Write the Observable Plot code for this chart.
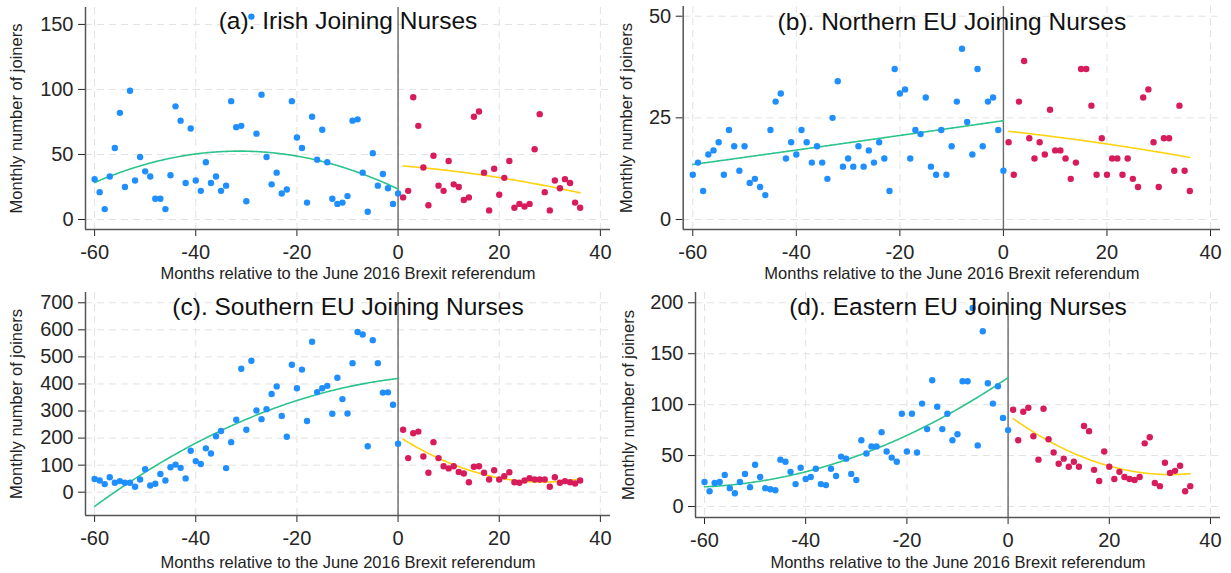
<!DOCTYPE html>
<html><head><meta charset="utf-8">
<script src="https://cdn.jsdelivr.net/npm/d3@7"></script>
<script src="https://cdn.jsdelivr.net/npm/@observablehq/plot@0.6"></script>
<style>
body{margin:0;background:#fff;}
#root{position:relative;width:1231px;height:573px;overflow:hidden;background:#fff;}
.panel{position:absolute;}
</style></head><body><div id="root"></div>
<script>
// ---------- data ----------
const monthsBefore = d3.range(-60, 1);   // -60 .. 0
const monthsAfter = d3.range(1, 37);     // 1 .. 36
const xTicks = [-60, -40, -20, 0, 20, 40];

const irishBefore = [31,21,8,33,55,82,25,99,30,48,37,33,16,16,8,34,87,76,28,70,30,22,44,28,33,22,26,91,71,72,14,156,66,96,48,27,36,20,23,91,63,55,13,79,46,69,44,16,12,13,18,76,77,36,6,51,26,35,24,12,20];
const irishAfter = [17,22,94,72,40,11,49,26,22,45,27,25,15,17,79,83,36,7,39,19,32,45,9,12,10,12,54,81,21,7,30,24,31,28,13,9];

const northBefore = [11,14,7,16,17,19,11,22,18,12,18,9,10,8,6,22,29,31,15,19,16,22,19,14,18,14,10,25,34,13,15,13,18,13,17,14,19,15,7,37,31,32,15,22,21,30,13,11,22,11,18,29,42,24,16,37,18,29,30,22,12];
const northAfter = [19,11,29,39,20,15,19,16,27,17,17,15,10,14,37,37,28,11,20,11,15,15,11,15,10,8,30,32,19,8,20,20,12,28,12,7];

const southBefore = [49,43,30,55,35,41,35,35,20,47,85,25,31,67,43,92,102,90,51,153,115,104,162,143,207,226,89,185,268,456,231,486,302,270,307,363,391,282,205,471,384,453,263,556,370,384,393,290,423,344,291,477,592,583,170,562,477,368,369,323,179];
const southAfter = [231,126,218,224,132,72,185,126,96,88,96,75,69,37,94,96,72,47,81,47,59,74,37,35,43,52,47,47,47,20,55,35,41,37,32,43];

const eastBefore = [24,15,23,24,31,18,13,24,32,19,41,29,18,17,16,46,44,34,22,38,27,29,37,22,21,37,30,49,47,32,26,65,52,59,59,73,54,48,44,91,54,91,53,101,76,124,98,76,91,65,71,123,123,195,60,172,121,101,118,87,75];
const eastAfter = [95,65,93,97,69,46,96,66,53,42,47,39,44,39,79,74,36,25,54,39,27,34,29,27,26,29,62,68,23,20,43,33,35,40,15,20];

const titles = ["(a). Irish Joining Nurses", "(b). Northern EU Joining Nurses", "(c). Southern EU Joining Nurses", "(d). Eastern EU Joining Nurses"];
const yTicksA = [0, 50, 100, 150];
const yTicksB = [0, 25, 50];
const yTicksC = [0, 100, 200, 300, 400, 500, 600, 700];
const yTicksD = [0, 50, 100, 150, 200];
const yLabel = "Monthly number of joiners";
const xLabel = "Months relative to the June 2016 Brexit referendum";

// ---------- style ----------
const FONT = '"Liberation Sans", Arial, Helvetica, sans-serif';
const BLUE = "#1f8fff", RED = "#d81b5a", GREEN = "#2cc48c", YELLOW = "#ffd20f";

// quadratic least-squares fit of the points, evaluated across their month span
function quadFit(xs, ys) {
  const S = [0,0,0,0,0], T = [0,0,0];
  xs.forEach((x, i) => {
    for (let k = 0; k < 5; k++) S[k] += x ** k;
    for (let k = 0; k < 3; k++) T[k] += ys[i] * x ** k;
  });
  const M = [[S[0],S[1],S[2],T[0]],[S[1],S[2],S[3],T[1]],[S[2],S[3],S[4],T[2]]];
  for (let c = 0; c < 3; c++) {
    for (let r = c + 1; r < 3; r++) {
      const f = M[r][c] / M[c][c];
      for (let k = c; k < 4; k++) M[r][k] -= f * M[c][k];
    }
  }
  const co = [0,0,0];
  for (let r = 2; r >= 0; r--) {
    let s = M[r][3];
    for (let k = r + 1; k < 3; k++) s -= M[r][k] * co[k];
    co[r] = s / M[r][r];
  }
  const lo = d3.min(xs), hi = d3.max(xs), pts = [];
  for (let x = lo; x <= hi + 1e-9; x += 0.25) pts.push({x, y: co[0] + co[1]*x + co[2]*x*x});
  return pts;
}

function panel(cfg) {
  const {left, top, width, height, frame: [fl, ft, fr, fb], xDomain, yDomain, yTicks, before, after, title, yLabelDx, titleDy, xLabelDy} = cfg;
  const bData = monthsBefore.map((m, i) => ({m, v: before[i]}));
  const aData = monthsAfter.map((m, i) => ({m, v: after[i]}));
  const chart = Plot.plot({
    width, height,
    marginLeft: fl - left, marginTop: ft - top, marginRight: left + width - fr, marginBottom: top + height - fb,
    style: {fontFamily: FONT, fontSize: "20px", color: "#262626", background: "transparent", overflow: "visible"},
    x: {domain: xDomain, ticks: xTicks, tickSize: 7, tickPadding: 8, tickFormat: d => String(d), label: null},
    y: {domain: yDomain, ticks: yTicks, tickSize: 7, tickPadding: 5, tickFormat: d => String(d), label: null},
    marks: [
      Plot.ruleX(xTicks, {stroke: "#e2e2e2", strokeDasharray: "7,5", strokeWidth: 1}),
      Plot.ruleY(yTicks, {stroke: "#e2e2e2", strokeDasharray: "7,5", strokeWidth: 1}),
      Plot.ruleX([0], {stroke: "#6a6a6a", strokeWidth: 1.4}),
      Plot.ruleX([xDomain[0]], {stroke: "#555", strokeWidth: 1.5}),
      Plot.ruleY([yDomain[0]], {stroke: "#555", strokeWidth: 1.5}),
      Plot.line(quadFit(monthsBefore, before), {x: "x", y: "y", stroke: GREEN, strokeWidth: 1.6}),
      Plot.line(quadFit(monthsAfter, after), {x: "x", y: "y", stroke: YELLOW, strokeWidth: 1.6}),
      Plot.dot(bData, {x: "m", y: "v", r: 3.2, fill: BLUE}),
      Plot.dot(aData, {x: "m", y: "v", r: 3.2, fill: RED}),
      Plot.text([title], {text: d => d, frameAnchor: "top", dy: titleDy, textAnchor: "middle", lineAnchor: "middle", fontSize: 24.5, fill: "#111"}),
      Plot.text([yLabel], {text: d => d, frameAnchor: "left", dx: yLabelDx, rotate: -90, textAnchor: "middle", lineAnchor: "middle", fontSize: 16.5, fill: "#222"}),
      Plot.text([xLabel], {text: d => d, frameAnchor: "bottom", dy: xLabelDy, textAnchor: "middle", lineAnchor: "middle", fontSize: 16.5, fill: "#222"})
    ]
  });
  const div = document.createElement("div");
  div.className = "panel";
  div.style.left = left + "px"; div.style.top = top + "px";
  div.style.width = width + "px"; div.style.height = height + "px";
  div.appendChild(chart);
  document.getElementById("root").appendChild(div);
}

panel({left: 0, top: 0, width: 615, height: 290, frame: [85, 7, 610, 229],
  xDomain: [-61.8, 42.0], yDomain: [-7.7, 163], yTicks: yTicksA,
  before: irishBefore, after: irishAfter, title: titles[0], yLabelDx: -69, titleDy: 14, xLabelDy: 44});
panel({left: 615, top: 0, width: 616, height: 290, frame: [682.7, 6, 1220, 229],
  xDomain: [-61.85, 41.93], yDomain: [-2.46, 52.39], yTicks: yTicksB,
  before: northBefore, after: northAfter, title: titles[1], yLabelDx: -56, titleDy: 16, xLabelDy: 44});
panel({left: 0, top: 286, width: 615, height: 287, frame: [85, 292, 610, 515],
  xDomain: [-61.8, 42.0], yDomain: [-86.1, 738], yTicks: yTicksC,
  before: southBefore, after: southAfter, title: titles[2], yLabelDx: -69, titleDy: 15, xLabelDy: 47});
panel({left: 615, top: 286, width: 616, height: 287, frame: [695, 292, 1220, 517],
  xDomain: [-61.78, 41.98], yDomain: [-10.8, 210.1], yTicks: yTicksD,
  before: eastBefore, after: eastAfter, title: titles[3], yLabelDx: -67, titleDy: 15, xLabelDy: 45});
</script>
</body></html>
